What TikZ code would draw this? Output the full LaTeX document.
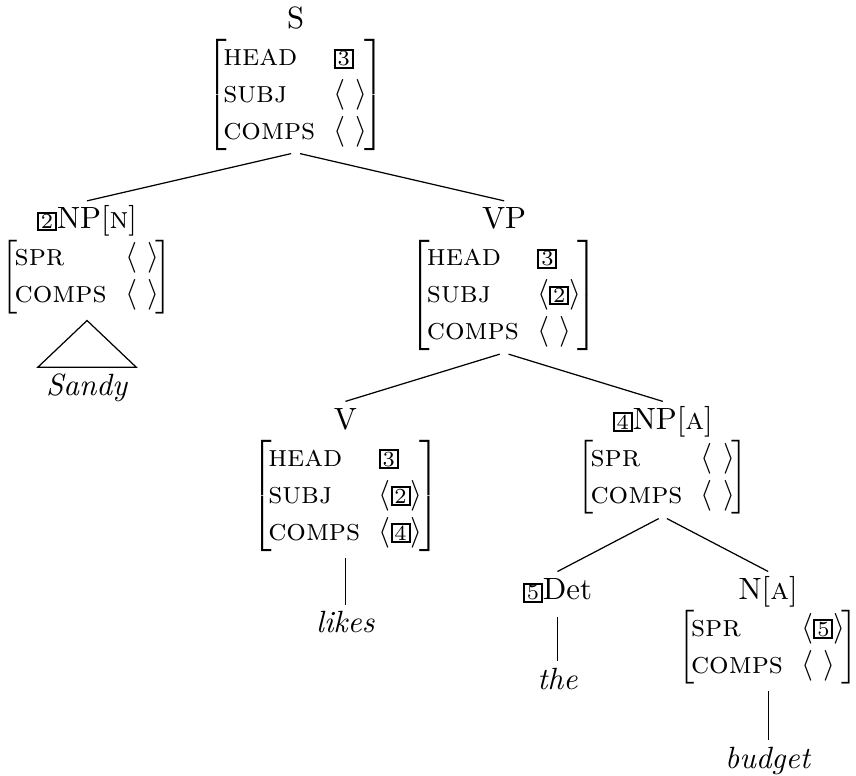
\documentclass[tikz,border=0pt]{standalone}
\usepackage{amsmath,amssymb}
\usepackage{tikz}
\usetikzlibrary{positioning}

\setlength{\fboxsep}{0.2pt}
\setlength{\fboxrule}{0.65pt}
\newcommand{\tg}[1]{\fbox{\scriptsize\kern0.4pt#1\kern0.4pt}}
\newcommand{\ft}[1]{\textsc{#1}}
\newcommand{\elist}{\langle\ \rangle}
\newcommand{\avm}[2]{\begin{tabular}{@{}c@{}}#1\\ $\left[\mkern-2mu\begin{array}{@{}l@{\hspace{6pt}}l@{}}#2\end{array}\mkern-2mu\right]$\end{tabular}}

\begin{document}
\begin{tikzpicture}[every node/.style={anchor=north,inner sep=0.5pt},
  parent anchor=south, child anchor=north,
  edge from parent/.style={draw,shorten <=1.5pt},
  level 1/.style={level distance=40.4pt,sibling distance=135.6pt},
  level 2/.style={level distance=40.5pt,sibling distance=103.2pt},
  level 3/.style={level distance=36.6pt,sibling distance=68.5pt},
  level 4/.style={level distance=36.2pt}]
\useasboundingbox (-96.1pt,0.2pt) rectangle (182.2pt,-252pt);
\node (s_top) {\avm{S}{\ft{head} & \tg{3}\\ \ft{subj} & \elist\\ \ft{comps} & \elist}}
  child {node (np_subj) {\avm{\tg{2}NP[\ft{n}]}{\ft{spr} & \elist\\ \ft{comps} & \elist}}
    child[level distance=35.4pt] {node (sandy) {\strut\textit{Sandy}}
    edge from parent[draw=none]}
  }
  child {node (vp) {\avm{VP}{\ft{head} & \tg{3}\\ \ft{subj} & \langle\tg{2}\rangle\\ \ft{comps} & \elist}}
    child {node (v) {\avm{V}{\ft{head} & \tg{3}\\ \ft{subj} & \langle\tg{2}\rangle\\ \ft{comps} & \langle\tg{4}\rangle}}
      child[level distance=41.4pt] {node (likes) {\strut\textit{likes}}}
    }
    child {node (np_obj) {\avm{\tg{4}NP[\ft{a}]}{\ft{spr} & \elist\\ \ft{comps} & \elist}}
      child {node (det) {\strut\tg{5}Det}
        child[level distance=22.5pt] {node (the) {\strut\textit{the}}}
      }
      child {node (n) {\avm{N[\ft{a}]}{\ft{spr} & \langle\tg{5}\rangle\\ \ft{comps} & \elist}}
        child {node (budget) {\strut\textit{budget}}}
      }
    }
  };
% triangle over Sandy
\draw ([yshift=-1.5pt]np_subj.south) -- ([xshift=-2pt]sandy.north west) -- ([xshift=2pt]sandy.north east) -- cycle;
\end{tikzpicture}
\end{document}
